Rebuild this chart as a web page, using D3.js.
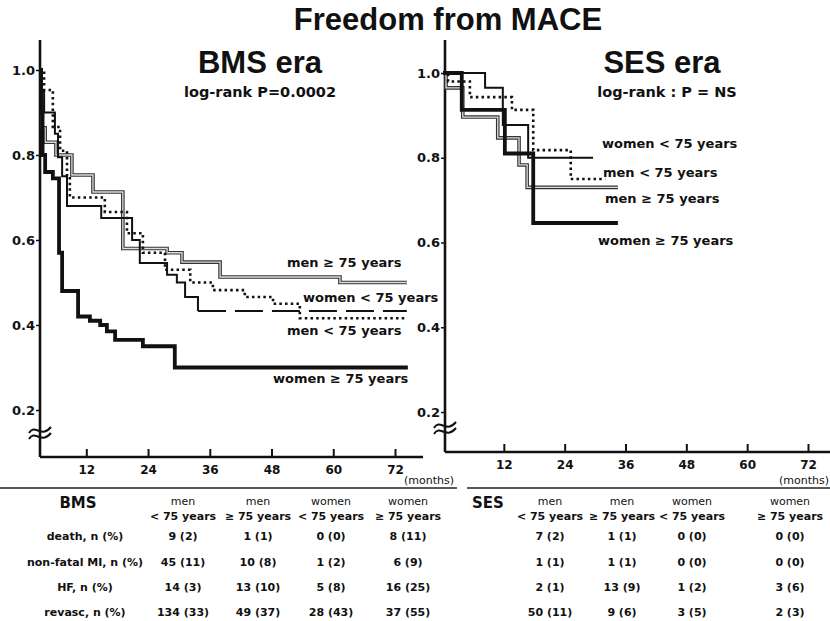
<!DOCTYPE html>
<html>
<head>
<meta charset="utf-8">
<script src="https://cdn.jsdelivr.net/npm/d3@7"></script>
<style>
  body { margin: 0; background: #fff; }
  svg text { fill: #111; font-family: "DejaVu Sans", sans-serif; font-weight: bold; }
  .big { font-family: "Liberation Sans", Arial, sans-serif; }
</style>
</head>
<body>
<div id="chart"></div>
<script>

// ---- DATA (months, freedom from MACE) ----
// BMS era
let bmsMenOldT   = [3, 3.2, 3.4, 4.0, 6.1, 9.2, 13.3, 19.1, 27.7, 30.6, 38.0, 61.3, 74.3];
let bmsMenOldS   = [1.0, 0.93, 0.864, 0.83, 0.80, 0.753, 0.713, 0.58, 0.57, 0.548, 0.513, 0.50, 0.50];
let bmsMenYoungT = [3, 3.8, 5.5, 6.9, 8.25, 8.8, 15.6, 19.9, 23.0, 27.3, 32.2, 36.6, 42.8, 48.3, 53.5, 74.3];
let bmsMenYoungS = [1.0, 0.953, 0.866, 0.81, 0.75, 0.70, 0.666, 0.616, 0.57, 0.53, 0.50, 0.482, 0.466, 0.45, 0.416, 0.416];
let bmsWomYoungT = [3, 3.2, 3.8, 5.9, 6.5, 7.3, 8.25, 14.9, 20.9, 22.4, 27.7, 29.6, 31.2, 33.7, 74.3];
let bmsWomYoungS = [1.0, 0.95, 0.90, 0.85, 0.795, 0.75, 0.68, 0.652, 0.60, 0.546, 0.518, 0.50, 0.466, 0.433, 0.433];
let bmsWomOldT   = [3, 3.2, 3.5, 4.0, 5.5, 6.7, 7.3, 10.4, 12.7, 14.7, 16.0, 17.6, 23.0, 29.2, 74.5];
let bmsWomOldS   = [1.0, 0.9, 0.8, 0.76, 0.745, 0.57, 0.48, 0.42, 0.41, 0.40, 0.385, 0.365, 0.35, 0.30, 0.30];

// SES era
let sesMenOldT   = [0, 0.6, 3.9, 10.8, 15.0, 16.6, 34.5];
let sesMenOldS   = [1.0, 0.965, 0.896, 0.847, 0.783, 0.73, 0.73];
let sesMenYoungT = [0, 1.0, 5.3, 13.6, 17.8, 25.2, 32.0];
let sesMenYoungS = [1.0, 0.98, 0.943, 0.913, 0.818, 0.75, 0.75];
let sesWomYoungT = [0, 8.3, 11.8, 16.8, 29.6];
let sesWomYoungS = [1.0, 0.965, 0.877, 0.80, 0.80];
let sesWomOldT   = [0, 3.7, 12.2, 17.8, 34.5];
let sesWomOldS   = [1.0, 0.913, 0.81, 0.646, 0.646];

let seriesLabels = ["men \u2265 75 years", "women < 75 years", "men < 75 years", "women \u2265 75 years"];
let xTicks = [12, 24, 36, 48, 60, 72];
let yTicks = [0.2, 0.4, 0.6, 0.8, 1.0];

// table
let colLine1 = ["men", "men", "women", "women"];
let colLine2 = ["< 75 years", "\u2265 75 years", "< 75 years", "\u2265 75 years"];
let rowLabels = ["death, n (%)", "non-fatal MI, n (%)", "HF, n (%)", "revasc, n (%)"];
let bmsDeath  = ["9 (2)", "1 (1)", "0 (0)", "8 (11)"];
let bmsMI     = ["45 (11)", "10 (8)", "1 (2)", "6 (9)"];
let bmsHF     = ["14 (3)", "13 (10)", "5 (8)", "16 (25)"];
let bmsRevasc = ["134 (33)", "49 (37)", "28 (43)", "37 (55)"];
let sesDeath  = ["7 (2)", "1 (1)", "0 (0)", "0 (0)"];
let sesMI     = ["1 (1)", "1 (1)", "0 (0)", "0 (0)"];
let sesHF     = ["2 (1)", "13 (9)", "1 (2)", "3 (6)"];
let sesRevasc = ["50 (11)", "9 (6)", "3 (5)", "2 (3)"];


// ---- SVG ----
let W = 830, H = 621;
let svg = d3.select("#chart").append("svg")
    .attr("width", W)
    .attr("height", H);

svg.append("text").attr("class", "big")
    .attr("x", 448).attr("y", 30)
    .attr("text-anchor", "middle")
    .style("font-size", "31px")
    .text("Freedom from MACE");

let zip = (t, s) => t.map((d, i) => [d, s[i]]);

function drawPanel(opt) {
    let x = d3.scaleLinear().domain(opt.xDomain).range(opt.xRange);
    let y = d3.scaleLinear().domain([0.2, 1.0]).range(opt.yRange);
    let g = svg.append("g");

    // axes
    let yAxis = d3.axisLeft(y).tickValues(yTicks).tickSize(4).tickPadding(1)
        .tickFormat(d3.format(".1f"));
    let yg = g.append("g")
        .attr("transform", "translate(" + opt.axisX + ",0)")
        .call(yAxis);
    yg.select(".domain").remove();
    yg.selectAll("line").attr("stroke", "#111").attr("stroke-width", 1.5);
    yg.selectAll("text").style("font-size", "13px").attr("fill", "#111");

    g.append("line")
        .attr("x1", opt.axisX).attr("x2", opt.axisX)
        .attr("y1", 40).attr("y2", opt.baseY)
        .attr("stroke", "#111").attr("stroke-width", 2.6);
    g.append("line")
        .attr("x1", opt.axisX).attr("x2", opt.axisEnd)
        .attr("y1", opt.baseY).attr("y2", opt.baseY)
        .attr("stroke", "#111").attr("stroke-width", 2.6);

    let xAxis = d3.axisBottom(x).tickValues(xTicks).tickSize(-8).tickPadding(8);
    let xg = g.append("g")
        .attr("transform", "translate(0," + opt.baseY + ")")
        .call(xAxis);
    xg.select(".domain").remove();
    xg.selectAll("line").attr("stroke", "#111").attr("stroke-width", 2);
    xg.selectAll("text").style("font-size", "12px").attr("fill", "#111");

    // axis break mark
    let br = g.append("g").attr("transform", "translate(" + opt.axisX + "," + opt.breakY + ")");
    [-3, 3].forEach(dy => {
        br.append("path")
            .attr("d", "M-11," + (dy + 3) + " C-5," + (dy - 7) + " 1," + (dy + 9) + " 11," + (dy - 3))
            .attr("fill", "none").attr("stroke", "#111").attr("stroke-width", 2);
    });

    let line = d3.line().x(d => x(d[0])).y(d => y(d[1])).curve(d3.curveStepAfter);

    // men >= 75: double grey line
    g.append("path").datum(opt.menOld)
        .attr("d", line).attr("fill", "none")
        .attr("stroke", "#333").attr("stroke-width", 3.6);
    g.append("path").datum(opt.menOld)
        .attr("d", line).attr("fill", "none")
        .attr("stroke", "#ddd").attr("stroke-width", 1.3);

    // men < 75: dotted
    g.append("path").datum(opt.menYoung)
        .attr("d", line).attr("fill", "none")
        .attr("stroke", "#111").attr("stroke-width", 2.6)
        .attr("stroke-dasharray", "2.5,3.2");

    // women < 75: thin black, optional dashed tail
    let wy = opt.womYoung;
    if (opt.dashTail) {
        g.append("path").datum(wy.slice(0, -1))
            .attr("d", line).attr("fill", "none")
            .attr("stroke", "#111").attr("stroke-width", 2);
        g.append("path").datum(wy.slice(-2))
            .attr("d", line).attr("fill", "none")
            .attr("stroke", "#111").attr("stroke-width", 2)
            .attr("stroke-dasharray", "28,9");
    } else {
        g.append("path").datum(wy)
            .attr("d", line).attr("fill", "none")
            .attr("stroke", "#111").attr("stroke-width", 2);
    }

    // women >= 75: thick black
    g.append("path").datum(opt.womOld)
        .attr("d", line).attr("fill", "none")
        .attr("stroke", "#111").attr("stroke-width", 3.8);

    // series labels
    g.selectAll(".lbl")
        .data(opt.labelPos)
        .enter().append("text")
        .attr("class", "lbl")
        .attr("x", d => d[0]).attr("y", d => d[1])
        .style("font-size", "13px")
        .text((d, i) => seriesLabels[i]);

    // panel titles
    g.append("text").attr("class", "big")
        .attr("x", opt.titleX).attr("y", 73)
        .attr("text-anchor", "middle")
        .style("font-size", "31px")
        .text(opt.title);
    g.append("text")
        .attr("x", opt.subX).attr("y", 97)
        .attr("text-anchor", "middle")
        .style("font-size", "14.5px")
        .text(opt.sub);

    // months
    g.append("text")
        .attr("x", opt.monthsX).attr("y", 484)
        .attr("text-anchor", opt.monthsAnchor)
        .style("font-size", "11px").style("font-weight", "normal")
        .text("(months)");
}

drawPanel({
    xDomain: [3, 72], xRange: [40, 395], yRange: [410, 70],
    axisX: 40, axisEnd: 423, baseY: 457, breakY: 433,
    menOld: zip(bmsMenOldT, bmsMenOldS),
    menYoung: zip(bmsMenYoungT, bmsMenYoungS),
    womYoung: zip(bmsWomYoungT, bmsWomYoungS),
    womOld: zip(bmsWomOldT, bmsWomOldS),
    dashTail: true,
    labelPos: [[287, 267], [303, 302], [287, 335], [273, 383]],
    title: "BMS era", titleX: 260, sub: "log-rank P=0.0002", subX: 260,
    monthsX: 404, monthsAnchor: "start"
});

drawPanel({
    xDomain: [0, 72], xRange: [443, 808], yRange: [412, 73],
    axisX: 445, axisEnd: 830, baseY: 452, breakY: 428,
    menOld: zip(sesMenOldT, sesMenOldS),
    menYoung: zip(sesMenYoungT, sesMenYoungS),
    womYoung: zip(sesWomYoungT, sesWomYoungS),
    womOld: zip(sesWomOldT, sesWomOldS),
    dashTail: false,
    labelPos: [[605, 203], [602, 148], [603, 177], [598, 245]],
    title: "SES era", titleX: 662, sub: "log-rank : P = NS", subX: 667,
    monthsX: 829, monthsAnchor: "end"
});

// ---- TABLE ----
function drawTable(name, nameX, ruleX, colX, rows) {
    let t = svg.append("g");
    t.append("line")
        .attr("x1", ruleX[0]).attr("x2", ruleX[1])
        .attr("y1", 488).attr("y2", 488)
        .attr("stroke", "#222").attr("stroke-width", 1.3);
    t.append("text")
        .attr("x", nameX).attr("y", 508)
        .attr("text-anchor", "middle")
        .style("font-size", "15px")
        .text(name);
    t.selectAll(".h1").data(colLine1).enter().append("text")
        .attr("x", (d, i) => colX[i]).attr("y", 505)
        .attr("text-anchor", "middle")
        .style("font-size", "11px").style("font-weight", "normal")
        .text(d => d);
    t.selectAll(".h2").data(colLine2).enter().append("text")
        .attr("x", (d, i) => colX[i]).attr("y", 520)
        .attr("text-anchor", "middle")
        .style("font-size", "11px")
        .text(d => d);
    let rowY = [540, 566, 591, 616];
    rows.forEach((r, j) => {
        t.selectAll(".v" + j).data(r).enter().append("text")
            .attr("x", (d, i) => colX[i]).attr("y", rowY[j])
            .attr("text-anchor", "middle")
            .style("font-size", "11px")
            .text(d => d);
    });
    return rowY;
}

let rowY = drawTable("BMS", 78, [0, 457], [183, 258, 331, 408],
    [bmsDeath, bmsMI, bmsHF, bmsRevasc]);
drawTable("SES", 488, [467, 830], [550, 622, 692, 790],
    [sesDeath, sesMI, sesHF, sesRevasc]);

svg.selectAll(".rowlbl").data(rowLabels).enter().append("text")
    .attr("x", 85).attr("y", (d, i) => rowY[i])
    .attr("text-anchor", "middle")
    .style("font-size", "11px")
    .text(d => d);

</script>
</body>
</html>
